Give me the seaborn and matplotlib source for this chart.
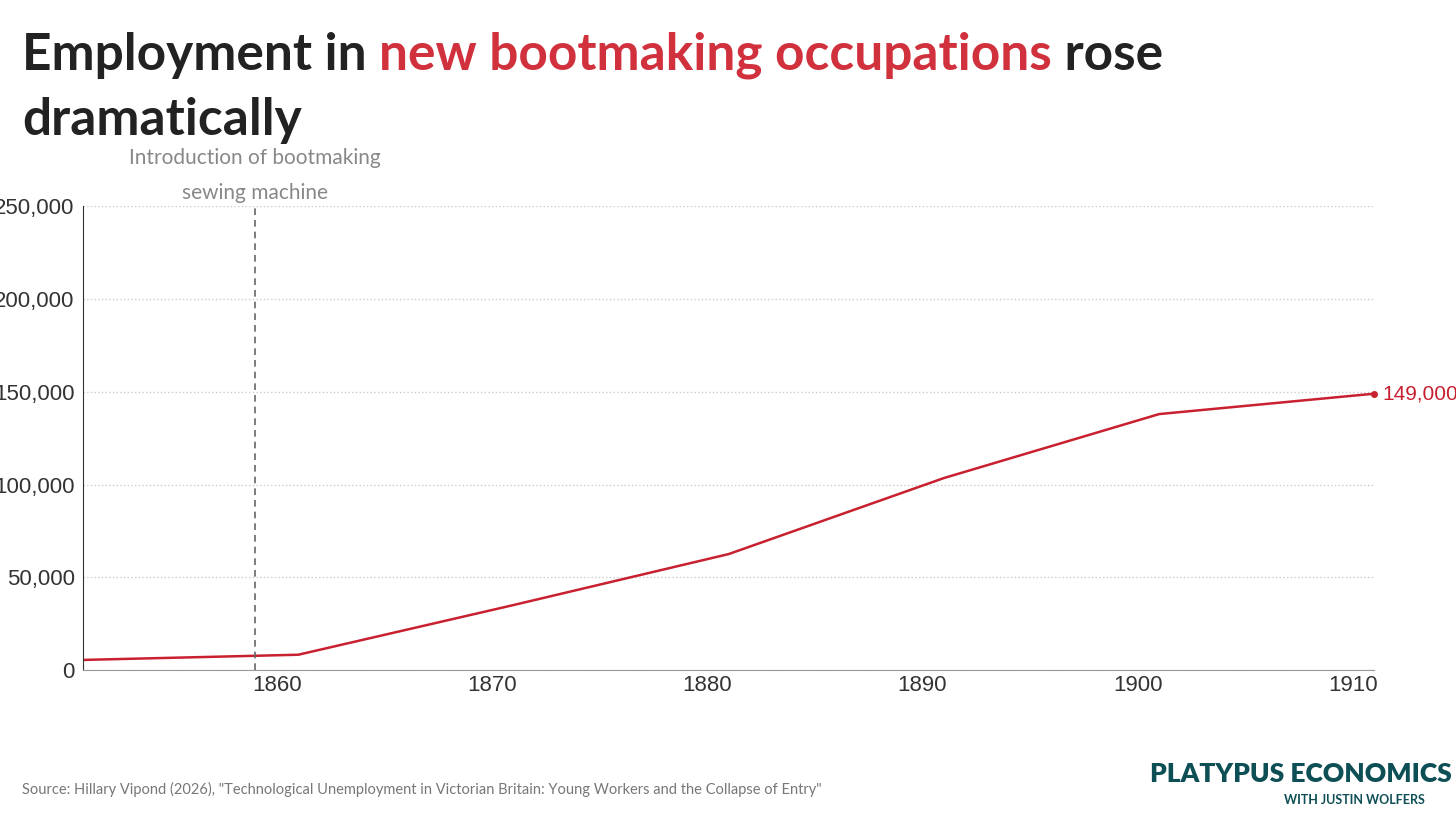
import matplotlib
matplotlib.use("Agg")
import matplotlib.pyplot as plt
import seaborn as sns
import pandas as pd

years = [1851, 1861, 1871, 1881, 1891, 1901, 1911]
employment = [5400, 8200, 35000, 62500, 103500, 138000, 149000]
x_ticks = [1860, 1870, 1880, 1890, 1900, 1910]
y_ticks = [0, 50000, 100000, 150000, 200000, 250000]
machine_year = 1859

sns.set_style("white")
plt.rcParams['font.family'] = ['Lato', 'DejaVu Sans']

RED = '#c8202f'
df = pd.DataFrame({'year': years, 'employment': employment})

fig = plt.figure(figsize=(14.56, 8.19), dpi=100)
ax = fig.add_axes([0.057, 0.182, 0.887, 0.566])

sns.lineplot(data=df, x='year', y='employment', color=RED, linewidth=1.8, ax=ax)
ax.plot(years[-1], employment[-1], 'o', color=RED, markersize=4, clip_on=False)
ax.annotate(f"{employment[-1]:,}", (years[-1], employment[-1]), xytext=(6, 0),
            textcoords='offset points', va='center', color=RED, fontsize=15,
            family=['Liberation Sans'], annotation_clip=False)

ax.axvline(machine_year, color='#666666', linestyle=(0, (4, 3)), linewidth=1.2)
ax.text(machine_year, 252000, "Introduction of bootmaking\nsewing machine", ha='center',
        va='bottom', color='#888888', fontsize=15, linespacing=1.9)

ax.set_xlim(1851, 1911)
ax.set_ylim(0, 250000)
ax.set_xticks(x_ticks)
ax.set_yticks(y_ticks)
ax.set_yticklabels([f"{v:,}" for v in y_ticks])
ax.tick_params(labelsize=16, colors='#333333', length=0)
ax.tick_params(axis='y', pad=6)
for lab in ax.get_xticklabels() + ax.get_yticklabels():
    lab.set_family('Liberation Sans')
ax.set_xlabel('')
ax.set_ylabel('')
ax.grid(axis='y', color='#cccccc', linestyle=':', linewidth=1)
for s in ['top', 'right']:
    ax.spines[s].set_visible(False)
ax.spines['left'].set_color('#333333')
ax.spines['bottom'].set_color('#999999')

# title with highlighted words
ty = 0.915
fig.text(0.015, ty, "Employment in ", fontsize=37, fontweight='bold', color='#222222')
fig.canvas.draw()
bb = fig.texts[-1].get_window_extent()
fig.text(bb.x1 / fig.bbox.width, ty, "new bootmaking occupations", fontsize=37, fontweight='bold', color='#d0313d')
fig.canvas.draw()
bb = fig.texts[-1].get_window_extent()
fig.text(bb.x1 / fig.bbox.width, ty, " rose", fontsize=37, fontweight='bold', color='#222222')
fig.text(0.015, 0.835, "dramatically", fontsize=37, fontweight='bold', color='#222222')

fig.text(0.015, 0.03, 'Source: Hillary Vipond (2026), "Technological Unemployment in Victorian Britain: '
         'Young Workers and the Collapse of Entry"', fontsize=10.5, color='#777777')
fig.text(0.997, 0.045, "PLATYPUS ECONOMICS", fontsize=19, fontweight='heavy', color='#0d4f55',
         ha='right', family=['Lato'])
fig.text(0.93, 0.018, "WITH JUSTIN WOLFERS", fontsize=9, fontweight='bold', color='#0d4f55', ha='center')

fig.savefig('out.png', dpi=100)
